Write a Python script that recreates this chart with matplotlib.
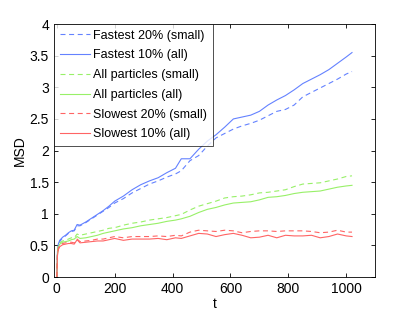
import matplotlib
matplotlib.use("Agg")
import matplotlib.pyplot as plt
from matplotlib.ticker import FormatStrFormatter

plt.rcParams['font.family'] = ['Liberation Sans', 'DejaVu Sans']
plt.rcParams['lines.scale_dashes'] = False

# time points
t = [0, 2, 5, 10, 20, 30, 40, 50, 60, 70, 80, 100, 120, 140, 160, 180, 200,
     230, 260, 290, 320, 350, 380, 410, 430, 460, 490, 520, 550, 580, 610,
     640, 670, 700, 730, 760, 790, 820, 850, 880, 910, 940, 970, 1000, 1020]

# MSD curves
fast_small = [0, 0.38, 0.50, 0.56, 0.62, 0.65, 0.69, 0.72, 0.73, 0.81, 0.81, 0.86,
              0.92, 0.98, 1.04, 1.10, 1.17, 1.24, 1.33, 1.40, 1.47, 1.52, 1.58, 1.63,
              1.68, 1.84, 1.92, 2.07, 2.20, 2.27, 2.34, 2.39, 2.43, 2.48, 2.55, 2.62,
              2.65, 2.72, 2.85, 2.92, 2.99, 3.06, 3.13, 3.21, 3.25]
fast_all = [0, 0.40, 0.52, 0.58, 0.63, 0.66, 0.70, 0.73, 0.74, 0.83, 0.82, 0.87,
            0.93, 0.99, 1.05, 1.12, 1.20, 1.28, 1.38, 1.46, 1.52, 1.57, 1.65, 1.72,
            1.87, 1.87, 2.02, 2.15, 2.25, 2.37, 2.50, 2.53, 2.56, 2.62, 2.72, 2.80,
            2.87, 2.96, 3.06, 3.13, 3.20, 3.28, 3.38, 3.48, 3.55]
all_small = [0, 0.38, 0.50, 0.54, 0.57, 0.58, 0.60, 0.62, 0.62, 0.68, 0.66, 0.68,
             0.70, 0.72, 0.74, 0.77, 0.78, 0.82, 0.85, 0.87, 0.90, 0.92, 0.94, 0.97,
             0.99, 1.06, 1.12, 1.16, 1.20, 1.25, 1.27, 1.28, 1.30, 1.33, 1.34, 1.36,
             1.38, 1.43, 1.47, 1.48, 1.49, 1.52, 1.55, 1.59, 1.60]
all_all = [0, 0.36, 0.47, 0.52, 0.55, 0.56, 0.57, 0.59, 0.60, 0.64, 0.61, 0.62,
           0.64, 0.66, 0.69, 0.71, 0.73, 0.76, 0.78, 0.81, 0.83, 0.85, 0.88, 0.90,
           0.92, 0.96, 1.02, 1.07, 1.10, 1.14, 1.17, 1.18, 1.19, 1.22, 1.26, 1.27,
           1.29, 1.32, 1.34, 1.35, 1.36, 1.39, 1.42, 1.44, 1.45]
slow_small = [0, 0.35, 0.45, 0.50, 0.53, 0.54, 0.55, 0.55, 0.54, 0.60, 0.56, 0.57,
              0.58, 0.60, 0.60, 0.62, 0.64, 0.62, 0.64, 0.64, 0.64, 0.65, 0.64, 0.66,
              0.65, 0.71, 0.74, 0.73, 0.72, 0.74, 0.73, 0.70, 0.72, 0.73, 0.73, 0.72,
              0.73, 0.73, 0.73, 0.72, 0.70, 0.71, 0.74, 0.71, 0.71]
slow_all = [0, 0.33, 0.43, 0.48, 0.51, 0.52, 0.53, 0.53, 0.52, 0.59, 0.54, 0.55,
            0.56, 0.57, 0.57, 0.59, 0.61, 0.58, 0.60, 0.60, 0.60, 0.61, 0.59, 0.62,
            0.61, 0.65, 0.69, 0.68, 0.64, 0.67, 0.69, 0.66, 0.62, 0.63, 0.66, 0.62,
            0.66, 0.65, 0.65, 0.66, 0.62, 0.64, 0.68, 0.65, 0.64]

blue = '#6482ff'
green = '#98f068'
red = '#ff6464'
dash = (3.6, 2.6)

fig = plt.figure(figsize=(4.15, 3.13), dpi=100)
ax = fig.add_axes([0.130, 0.115, 0.774, 0.808])

ax.plot(t, fast_small, '--', dashes=dash, color=blue, lw=0.8, label='Fastest 20% (small)')
ax.plot(t, fast_all, '-', color=blue, lw=0.8, label='Fastest 10% (all)')
ax.plot(t, all_small, '--', dashes=dash, color=green, lw=0.8, label='All particles (small)')
ax.plot(t, all_all, '-', color=green, lw=0.8, label='All particles (all)')
ax.plot(t, slow_small, '--', dashes=dash, color=red, lw=0.8, label='Slowest 20% (small)')
ax.plot(t, slow_all, '-', color=red, lw=0.8, label='Slowest 10% (all)')

ax.set_xlim(-10, 1100)
ax.set_ylim(0, 4)
ax.set_xticks([0, 200, 400, 600, 800, 1000])
ax.set_yticks([0, 0.5, 1, 1.5, 2, 2.5, 3, 3.5, 4])
ax.yaxis.set_major_formatter(FormatStrFormatter('%g'))
ax.tick_params(direction='in', top=True, right=True, labelsize=10, length=3, width=0.6)
for s in ax.spines.values():
    s.set_linewidth(0.6)

ax.set_xlabel('t', fontsize=10, labelpad=1)
ax.set_ylabel('MSD', fontsize=10, labelpad=2)

leg = ax.legend(loc='upper left', fontsize=9, frameon=True, fancybox=False,
                borderaxespad=0, handlelength=2.4, labelspacing=0.62,
                borderpad=0.45, handletextpad=0.3)
leg.get_frame().set_edgecolor('black')
leg.get_frame().set_linewidth(0.6)

fig.savefig('out.png', dpi=100)
